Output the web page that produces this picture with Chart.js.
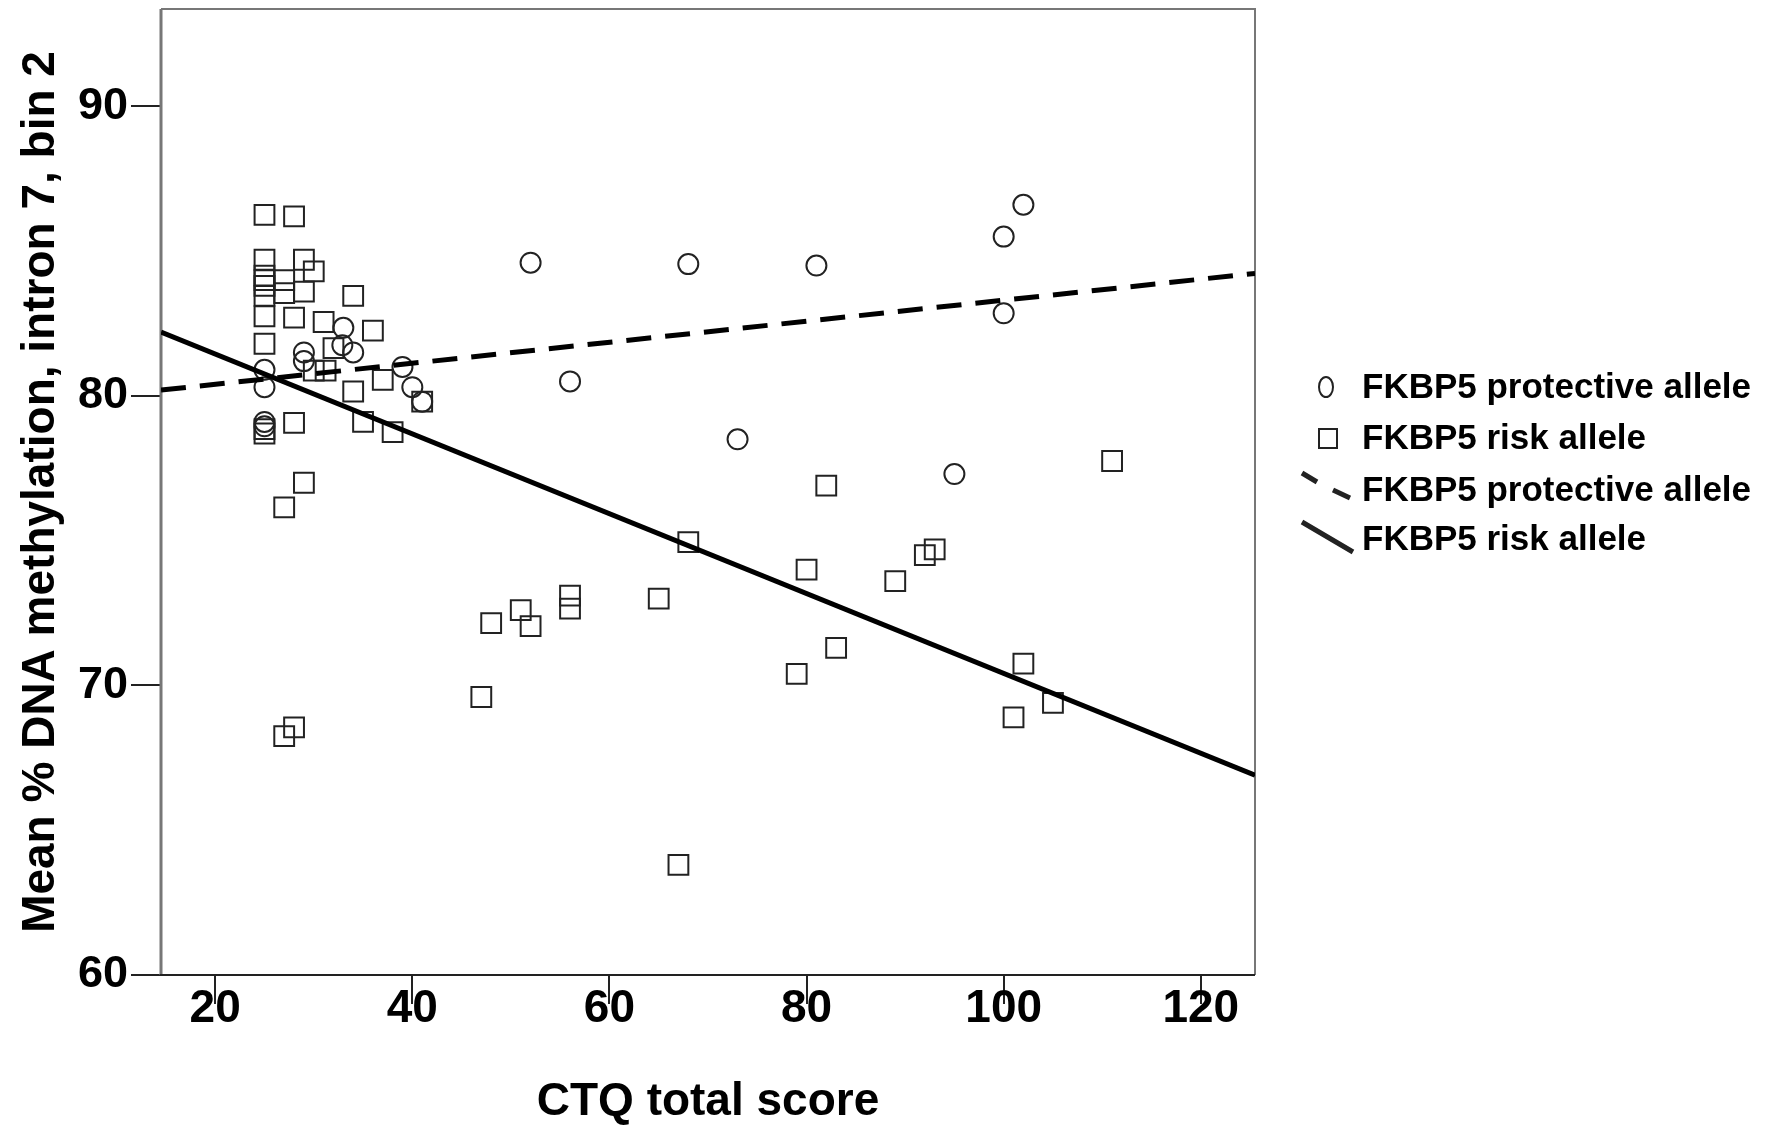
<!DOCTYPE html>
<html>
<head>
<meta charset="utf-8">
<script src="https://cdn.jsdelivr.net/npm/chart.js@4.4.1/dist/chart.umd.min.js"></script>
<style>
  body { margin: 0; background: #fff; }
  canvas { display: block; }
</style>
</head>
<body>
<canvas id="grafico_pontos" width="1773" height="1126"></canvas>
<script>
// values
const protectiveX = [25, 25, 25, 25, 29, 29, 32.9, 33, 34, 39, 40, 41, 52, 56, 68, 73, 81, 95, 100, 100, 102]
const protectiveY = [80.9, 80.3, 79.1, 78.95, 81.5, 81.2, 81.75, 82.35, 81.5, 81.0, 80.3, 79.8, 84.6, 80.5, 84.55, 78.5, 84.5, 77.3, 85.5, 82.85, 86.6]

const riskX = [25, 28, 25, 29, 30, 25, 25, 25, 25, 27, 27, 29, 34, 25, 28, 31, 36, 25, 32, 30, 31.2, 37, 34, 41, 35, 38, 28, 25, 25, 29,
               27, 27, 28, 47, 48, 51, 52, 56, 56, 65, 67, 68, 79, 80, 82, 83, 89, 92, 93, 101, 102, 105, 111]
const riskY = [86.25, 86.2, 84.7, 84.7, 84.3, 84.15, 84.0, 83.8, 83.45, 84.0, 83.55, 83.6, 83.45, 82.75, 82.7, 82.55, 82.25, 81.8, 81.65, 80.87,
               80.87, 80.55, 80.15, 79.8, 79.1, 78.75, 79.07, 78.85, 78.7, 77.0, 76.15, 68.25, 68.55, 69.6, 72.15, 72.6, 72.05, 73.1, 72.65, 73.0,
               63.8, 74.95, 70.4, 74.0, 76.9, 71.3, 73.6, 74.5, 74.7, 68.9, 70.75, 69.4, 77.75]

// fit lines, value at each end of the x range
const fitX = [14.5, 125.5]
const protectiveFitY = [80.2, 84.23]
const riskFitY = [82.2, 66.9]

const xTicks = [20, 40, 60, 80, 100, 120]
const yTicks = [60, 70, 80, 90]
const legendLabels = ['FKBP5 protective allele', 'FKBP5 risk allele', 'FKBP5 protective allele', 'FKBP5 risk allele']

const FONT = '"Liberation Sans", Arial, sans-serif'
const INK = '#222'

const toPoints = (xs, ys) => xs.map((x, i) => ({ x: x, y: ys[i] }))

// box round the plot
const frame = {
    id: 'frame',
    beforeDatasetsDraw(chart) {
        const a = chart.chartArea
        const ctx = chart.ctx
        ctx.save()
        ctx.strokeStyle = '#777'
        ctx.lineWidth = 2
        ctx.beginPath()
        ctx.moveTo(a.left, a.top); ctx.lineTo(a.right, a.top); ctx.lineTo(a.right, a.bottom)
        ctx.stroke()
        ctx.lineWidth = 3
        ctx.beginPath()
        ctx.moveTo(a.left, a.top); ctx.lineTo(a.left, a.bottom)
        ctx.stroke()
        ctx.strokeStyle = INK
        ctx.lineWidth = 2
        ctx.beginPath()
        ctx.moveTo(a.left - 1, a.bottom); ctx.lineTo(a.right, a.bottom)
        ctx.stroke()
        ctx.restore()
    }
}

// legend at the right, with slanted line samples
const sideLegend = {
    id: 'sideLegend',
    afterDraw(chart) {
        const ctx = chart.ctx
        const rows = [388, 439, 491, 540]
        ctx.save()
        ctx.fillStyle = '#000'
        ctx.font = 'bold 35px ' + FONT
        ctx.textBaseline = 'middle'
        rows.forEach((y, i) => ctx.fillText(legendLabels[i], 1362, y))

        ctx.strokeStyle = INK
        ctx.lineWidth = 2
        ctx.beginPath()
        ctx.ellipse(1326, 387, 7, 10, 0, 0, Math.PI * 2)
        ctx.stroke()
        ctx.strokeRect(1319, 429, 18, 19)

        ctx.lineWidth = 5
        ctx.beginPath()
        ctx.moveTo(1302, 473); ctx.lineTo(1317, 482)
        ctx.moveTo(1333, 490); ctx.lineTo(1350, 498)
        ctx.moveTo(1302, 522); ctx.lineTo(1353, 552)
        ctx.stroke()
        ctx.restore()
    }
}

var ctx = document.getElementById('grafico_pontos').getContext('2d')

var chartGraph = new Chart(ctx, {
    type: 'scatter',
    data: {
        datasets: [{
            type: 'line',
            label: 'FKBP5 protective allele fit',
            data: toPoints(fitX, protectiveFitY),
            borderColor: '#000',
            borderWidth: 5,
            borderDash: [25, 14],
            pointRadius: 0,
            fill: false
        }, {
            type: 'line',
            label: 'FKBP5 risk allele fit',
            data: toPoints(fitX, riskFitY),
            borderColor: '#000',
            borderWidth: 5,
            pointRadius: 0,
            fill: false
        }, {
            label: 'FKBP5 protective allele',
            data: toPoints(protectiveX, protectiveY),
            pointStyle: 'circle',
            pointRadius: 10,
            borderColor: INK,
            borderWidth: 2,
            backgroundColor: 'transparent'
        }, {
            label: 'FKBP5 risk allele',
            data: toPoints(riskX, riskY),
            pointStyle: 'rect',
            pointRadius: 14,
            borderColor: INK,
            borderWidth: 2,
            backgroundColor: 'transparent'
        }]
    },
    options: {
        responsive: false,
        animation: false,
        layout: { autoPadding: false, padding: { left: 0, top: 9, right: 518, bottom: 0 } },
        plugins: {
            legend: { display: false },
            tooltip: { enabled: false }
        },
        scales: {
            x: {
                type: 'linear',
                min: 14.5,
                max: 125.5,
                afterBuildTicks: (s) => { s.ticks = xTicks.map(v => ({ value: v })) },
                afterFit: (s) => { s.height = 151; s.paddingLeft = 0; s.paddingRight = 0 },
                border: { display: false },
                grid: { drawOnChartArea: false, tickLength: 29, color: INK, lineWidth: 2 },
                ticks: { color: '#000', padding: -22, font: { family: FONT, size: 46, weight: 'bold' } },
                title: {
                    display: true,
                    text: 'CTQ total score',
                    color: '#000',
                    padding: { top: 0, bottom: -4 },
                    font: { family: FONT, size: 46, weight: 'bold' }
                }
            },
            y: {
                type: 'linear',
                min: 60,
                max: 93.36,
                afterBuildTicks: (s) => { s.ticks = yTicks.map(v => ({ value: v })) },
                afterFit: (s) => { s.width = 161; s.paddingTop = 0; s.paddingBottom = 0 },
                border: { display: false },
                grid: { drawOnChartArea: false, tickLength: 30, color: INK, lineWidth: 2 },
                ticks: { color: '#000', padding: 3, font: { family: FONT, size: 45, weight: 'bold' } },
                title: {
                    display: true,
                    text: 'Mean % DNA methylation, intron 7, bin 2',
                    color: '#000',
                    padding: { top: 14, bottom: 0 },
                    font: { family: FONT, size: 46, weight: 'bold' }
                }
            }
        }
    },
    plugins: [frame, sideLegend]
})
</script>
</body>
</html>
